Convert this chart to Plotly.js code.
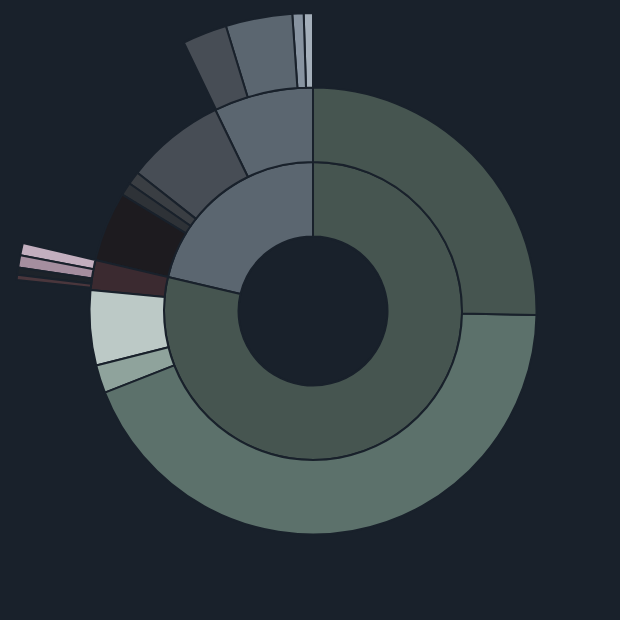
<!DOCTYPE html>
<html>
<head>
<meta charset="utf-8">
<script src="https://cdn.plot.ly/plotly-3.0.1.min.js"></script>
<style>
  html, body { margin: 0; padding: 0; background: #19212b; }
  #chart { width: 620px; height: 620px; }
</style>
</head>
<body>
<div id="chart"></div>
<script>
// nodes listed counterclockwise from 12 o'clock, parents before children
var ids = [
	"root",
	"slate", "moss",
	"slate-light", "slate-mid", "slate-strip1", "slate-strip2", "slate-night",
	"moss-wine", "moss-frost", "moss-sage", "moss-teal", "moss-deep",
	"light-a", "light-b", "light-c", "light-d",
	"wine-a", "wine-b", "wine-c", "wine-d"
];
var parents = [
	"",
	"root", "root",
	"slate", "slate", "slate", "slate", "slate",
	"moss", "moss", "moss", "moss", "moss",
	"slate-light", "slate-light", "slate-light", "slate-light",
	"moss-wine", "moss-wine", "moss-wine", "moss-wine"
];
var values = [
	3600,
	768, 2832,
	259, 259, 34, 34, 182,
	78, 195, 73, 1576, 910,
	18, 22, 130, 87,
	24, 24, 14, 10
];
var colors = [
	"#19212b",
	"#5b6670", "#465550",
	"#5b6670", "#474d55", "#3a3e43", "#2e3237", "#1d1b1f",
	"#3b2a30", "#bcc9c6", "#8fa39c", "#5c716b", "#465550",
	"#a4afba", "#8793a0", "#5b6670", "#474d55",
	"#c3afbf", "#a58e9f", "#1d232a", "#4a363c"
];

var trace = {
	type: "sunburst",
	ids: ids,
	labels: ids,
	parents: parents,
	values: values,
	branchvalues: "total",
	sort: false,
	rotation: 90,
	textinfo: "none",
	hoverinfo: "label+value",
	leaf: {opacity: 1},
	marker: {
		colors: colors,
		line: {color: "#19212b", width: 2}
	},
	domain: {x: [0.0242, 0.9855], y: [0.0177, 0.979]}
};

var layout = {
	width: 620,
	height: 620,
	margin: {l: 0, r: 0, t: 0, b: 0},
	paper_bgcolor: "#19212b",
	plot_bgcolor: "#19212b",
	showlegend: false
};

Plotly.newPlot("chart", [trace], layout, {displayModeBar: false});
</script>
</body>
</html>
